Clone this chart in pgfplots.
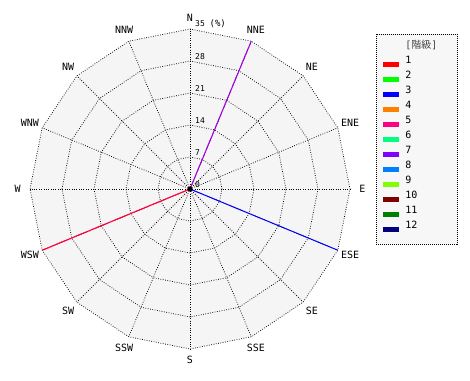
\documentclass[border=0pt]{standalone}
\usepackage{pgfplots}
\pgfplotsset{compat=1.18}
\usepackage{pgfplotstable}
\usepackage{fontspec}
\setmainfont{DejaVu Sans Mono}
\newfontfamily\cjk{Noto Sans CJK JP}
\definecolor{bgc}{HTML}{F5F5F5}
\definecolor{lgbg}{HTML}{F7F7F7}
\definecolor{ttl}{HTML}{444444}
\definecolor{c1}{HTML}{FF0000}
\definecolor{c2}{HTML}{00FF00}
\definecolor{c3}{HTML}{0000FF}
\definecolor{c4}{HTML}{FF8000}
\definecolor{c5}{HTML}{FF0080}
\definecolor{c6}{HTML}{00FF80}
\definecolor{c7}{HTML}{8000FF}
\definecolor{c8}{HTML}{0080FF}
\definecolor{c9}{HTML}{80FF00}
\definecolor{c10}{HTML}{800000}
\definecolor{c11}{HTML}{008000}
\definecolor{c12}{HTML}{000080}
\tikzset{griddot/.style={black, line width=0.75pt, dash pattern=on 0.75pt off 1.6pt}}
\pgfplotstableread{
a r
90 1
67.5 1
45 1
22.5 1
0 1
-22.5 1
-45 1
-67.5 1
-90 1
-112.5 1
-135 1
-157.5 1
180 1
157.5 1
135 1
112.5 1
90 1
}\ringtab
\begin{document}
\begin{tikzpicture}[x=1pt,y=1pt]
\useasboundingbox (-190,189) rectangle (280,-191);
\begin{axis}[
  at={(0pt,0pt)}, anchor=origin,
  hide axis, scale only axis,
  width=320pt, height=320pt,
  xmin=-35, xmax=35, ymin=-35, ymax=35,
  clip=false,
  legend style={at={(axis cs:40.7,33.9)}, anchor=north west, draw=black,
    dash pattern=on 1pt off 1pt, fill=lgbg, inner xsep=4pt, inner ysep=7.5pt,
    row sep=0pt, font=\fontsize{10}{10}\selectfont,
    nodes={inner sep=0pt, text height=7pt, text depth=8pt},
    /tikz/every odd column/.append style={column sep=4pt}},
  legend cell align=left,
  legend image code/.code={\draw[#1, solid, line width=5pt] (0pt,0pt) -- (16pt,0pt);},
]
% background
\addplot[fill=bgc, draw=none, forget plot] table[x expr={35*cos(\thisrow{a})}, y expr={35*sin(\thisrow{a})}]{\ringtab};
% rings
\pgfplotsinvokeforeach{7,14,21,28,35}{
  \addplot[griddot, forget plot] table[x expr={#1*cos(\thisrow{a})}, y expr={#1*sin(\thisrow{a})}]{\ringtab};
}
% spokes
\pgfplotsinvokeforeach{90,67.5,45,22.5,0,-22.5,-45,-67.5,-90,-112.5,-135,-157.5,180,157.5,135,112.5}{
  \addplot[griddot, forget plot, data cs=polar] coordinates {(#1,0) (#1,35)};
}
% data lines
\addplot[c1, line width=1pt, data cs=polar, forget plot] coordinates {(202.5,0) (202.5,35)};
\addplot[c5, line width=1pt, dash pattern=on 1.5pt off 1.5pt, data cs=polar, forget plot] coordinates {(202.5,0) (202.5,35)};
\addplot[c7, line width=1pt, data cs=polar, forget plot] coordinates {(67.5,0) (67.5,35)};
\addplot[c5, line width=1pt, dash pattern=on 1pt off 3pt, data cs=polar, forget plot] coordinates {(67.5,0) (67.5,35)};
\addplot[c3, line width=1pt, data cs=polar, forget plot] coordinates {(-22.5,0) (-22.5,35)};
\addplot[only marks, mark=*, mark size=2.2pt, black, forget plot] coordinates {(0,0)};
% direction labels
\tikzset{dl/.style={font=\fontsize{10}{10}\selectfont, inner sep=0pt}}
\node[dl] at (axis cs:{37.4*cos(90)},{37.4*sin(90)}) {N};
\node[dl] at (axis cs:{37.7*cos(67.5)},{37.7*sin(67.5)}) {NNE};
\node[dl] at (axis cs:{37.7*cos(45)},{37.7*sin(45)}) {NE};
\node[dl] at (axis cs:{37.9*cos(22.5)},{37.9*sin(22.5)}) {ENE};
\node[dl] at (axis cs:{37.7*cos(0)},{37.7*sin(0)}) {E};
\node[dl] at (axis cs:{37.9*cos(-22.5)},{37.9*sin(-22.5)}) {ESE};
\node[dl] at (axis cs:{37.7*cos(-45)},{37.7*sin(-45)}) {SE};
\node[dl] at (axis cs:{37.7*cos(-67.5)},{37.7*sin(-67.5)}) {SSE};
\node[dl] at (axis cs:{37.4*cos(-90)},{37.4*sin(-90)}) {S};
\node[dl] at (axis cs:{37.7*cos(-112.5)},{37.7*sin(-112.5)}) {SSW};
\node[dl] at (axis cs:{37.7*cos(-135)},{37.7*sin(-135)}) {SW};
\node[dl] at (axis cs:{37.9*cos(-157.5)},{37.9*sin(-157.5)}) {WSW};
\node[dl] at (axis cs:{37.7*cos(180)},{37.7*sin(180)}) {W};
\node[dl] at (axis cs:{37.9*cos(157.5)},{37.9*sin(157.5)}) {WNW};
\node[dl] at (axis cs:{37.7*cos(135)},{37.7*sin(135)}) {NW};
\node[dl] at (axis cs:{37.7*cos(112.5)},{37.7*sin(112.5)}) {NNW};
% radial labels
\tikzset{rl/.style={font=\fontsize{8}{8}\selectfont, inner sep=0pt, anchor=south west, xshift=5pt, yshift=1pt}}
\node[rl] at (axis cs:0,0) {0};
\node[rl] at (axis cs:0,7) {7};
\node[rl] at (axis cs:0,14) {14};
\node[rl] at (axis cs:0,21) {21};
\node[rl] at (axis cs:0,28) {28};
\node[rl] at (axis cs:0,35) {35 {\fontsize{9}{9}\selectfont(\%)}};
% legend
\addlegendimage{empty legend}
\addlegendentry{\makebox[48pt][l]{\textcolor{ttl}{[{\cjk 階級}]}}}
\addlegendimage{c1}\addlegendentry{1}
\addlegendimage{c2}\addlegendentry{2}
\addlegendimage{c3}\addlegendentry{3}
\addlegendimage{c4}\addlegendentry{4}
\addlegendimage{c5}\addlegendentry{5}
\addlegendimage{c6}\addlegendentry{6}
\addlegendimage{c7}\addlegendentry{7}
\addlegendimage{c8}\addlegendentry{8}
\addlegendimage{c9}\addlegendentry{9}
\addlegendimage{c10}\addlegendentry{10}
\addlegendimage{c11}\addlegendentry{11}
\addlegendimage{c12}\addlegendentry{12}
\end{axis}
\end{tikzpicture}
\end{document}
